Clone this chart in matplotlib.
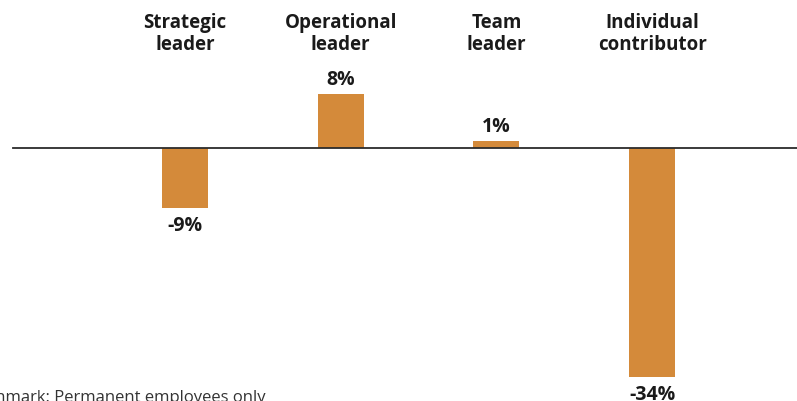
import matplotlib
matplotlib.use("Agg")
import matplotlib.pyplot as plt

categories = ["Strategic\nleader", "Operational\nleader", "Team\nleader", "Individual\ncontributor"]
values = [-9, 8, 1, -34]
labels = ["-9%", "8%", "1%", "-34%"]
note = "Denmark: Permanent employees only"

BAR = "#D48A3A"
TXT = "#1a1a1a"

plt.rcParams['font.family'] = ['Open Sans', 'DejaVu Sans']

W, H = 797, 401
fig = plt.figure(figsize=(W / 100, H / 100), dpi=100)
ax = fig.add_axes([0, 0, 1, 1])

# pixel geometry
x0_px, step_px = 185, 155.7
base_px, per_pct = 147.7, 6.75

xs = list(range(len(values)))
ax.bar(xs, values, width=46 / step_px, color=BAR, zorder=2)
ax.set_xlim(-x0_px / step_px, (W - x0_px) / step_px)
ax.set_ylim(-(H - base_px) / per_pct, base_px / per_pct)
ax.axhline(0, xmin=13 / W, xmax=1, color="#2b2b2b", lw=1.3, zorder=3)
ax.axis("off")

def ypx(p):
    return (base_px - p) / per_pct

for x, c in zip(xs, categories):
    ax.text(x, ypx(34), c, ha="center", va="center", fontsize=13.5,
            fontweight="bold", color=TXT, linespacing=1.1)

for x, v, l in zip(xs, values, labels):
    if v >= 0:
        ax.text(x, v + 14 / per_pct, l, ha="center", va="center",
                fontsize=14, fontweight="bold", color=TXT)
    else:
        ax.text(x, v - 17.5 / per_pct, l, ha="center", va="center",
                fontsize=14, fontweight="bold", color=TXT)

ax.text(266 / step_px - x0_px / step_px, ypx(402), note, ha="right", va="baseline",
        fontsize=12, color="#333333")

fig.savefig("out.png", dpi=100)
